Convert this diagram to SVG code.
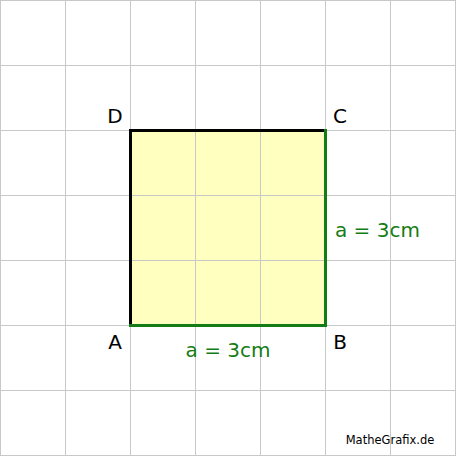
<svg xmlns="http://www.w3.org/2000/svg" width="456" height="456" viewBox="0 0 456 456">
<style>
.grid{stroke:#c8c8c8;stroke-width:1;fill:none}
.lbl{font-family:"DejaVu Sans",Verdana,sans-serif;font-size:20px;fill:#000}
.len{font-family:"DejaVu Sans",Verdana,sans-serif;font-size:20px;fill:#147c14}
.edgeK{stroke:#000;stroke-width:3;fill:none;stroke-linecap:square}
.edgeG{stroke:#147c14;stroke-width:3;fill:none;stroke-linecap:square}
</style>
<rect x="0" y="0" width="456" height="456" fill="#fff"/>
<g id="grid" class="grid">
<path d="M0.5 0V456M65.5 0V456M130.5 0V456M195.5 0V456M260.5 0V456M325.5 0V456M390.5 0V456M455.5 0V456M0 0.5H456M0 65.5H456M0 130.5H456M0 195.5H456M0 260.5H456M0 325.5H456M0 390.5H456M0 455.5H456"/>
</g>
<g id="square">
<rect x="130.5" y="130.5" width="195" height="195" fill="#ffffc0"/>
<path d="M195.5 130V325M260.5 130V325M130 195.5H325M130 260.5H325" class="grid"/>
</g>
<g id="edges">
<path class="edgeK" d="M130.5 325.5V130.5H325.5"/>
<path class="edgeG" d="M325.5 130.5V325.5H130.5"/>
</g>
<g id="labels">
<text class="lbl" x="115" y="123" text-anchor="middle">D</text>
<text class="lbl" x="340" y="123" text-anchor="middle">C</text>
<text class="lbl" x="115" y="349" text-anchor="middle">A</text>
<text class="lbl" x="340" y="349" text-anchor="middle">B</text>
<text class="len" x="228" y="357" text-anchor="middle">a = 3cm</text>
<text class="len" x="335" y="237">a = 3cm</text>
<text x="390" y="444" text-anchor="middle" font-family="DejaVu Sans,Verdana,sans-serif" font-size="11.5" fill="#000">MatheGrafix.de</text>
</g>
</svg>
